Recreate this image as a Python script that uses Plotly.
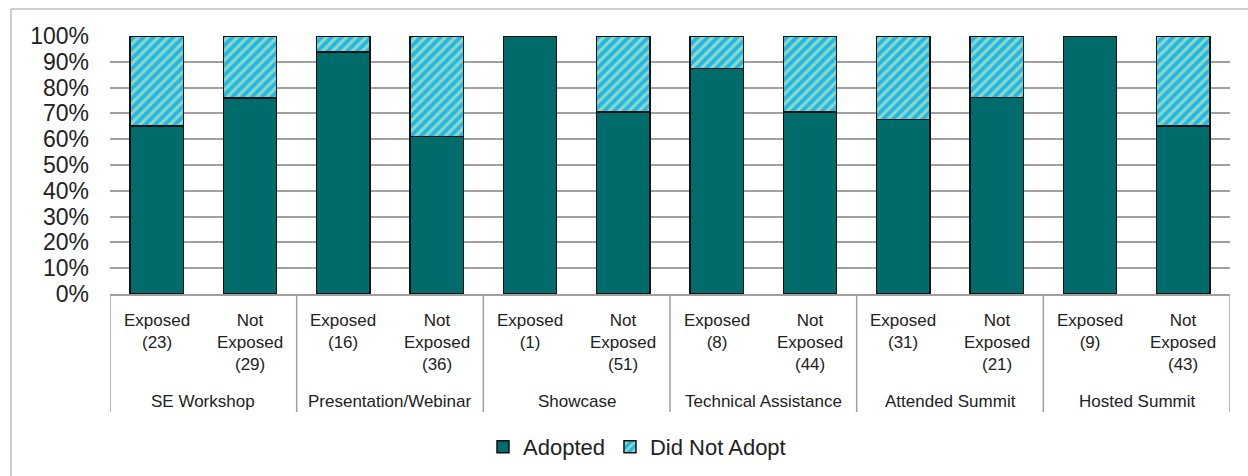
import plotly.graph_objects as go

# ---- data ----
groups = ["SE Workshop", "Presentation/Webinar", "Showcase",
          "Technical Assistance", "Attended Summit", "Hosted Summit"]
exposed_n = [23, 16, 1, 8, 31, 9]
not_exposed_n = [29, 36, 51, 44, 21, 43]
adopted = [65.2, 75.9, 93.8, 61.1, 100.0, 70.6, 87.5, 70.5, 67.7, 76.2, 100.0, 65.1]
did_not_adopt = [34.8, 24.1, 6.2, 38.9, 0.0, 29.4, 12.5, 29.5, 32.3, 23.8, 0.0, 34.9]
y_ticks = [0, 10, 20, 30, 40, 50, 60, 70, 80, 90, 100]
y_tick_labels = ["0%", "10%", "20%", "30%", "40%", "50%", "60%", "70%", "80%", "90%", "100%"]

# ---- build categories ----
keys, sub_labels = [], []
for g, ne, nn in zip(groups, exposed_n, not_exposed_n):
    keys.append(f"{g}|Exposed")
    sub_labels.append(f"Exposed<br>({ne})")
    keys.append(f"{g}|Not Exposed")
    sub_labels.append(f"Not<br>Exposed<br>({nn})")

W, H = 1248, 476
L, R, T, B = 110, 18, 36, 182
plot_h = H - T - B

def py(pix):
    """pixel y (from top of page) -> paper y"""
    return (H - B - pix) / plot_h

def px(pix):
    return (pix - L) / (W - L - R)

FONT = "Liberation Sans, Arial, sans-serif"
TEAL = "#006B6B"
GRID = "#A0A0A0"

fig = go.Figure()
fig.add_trace(go.Bar(
    name="Adopted", x=keys, y=adopted,
    marker=dict(color=TEAL, line=dict(color="#111111", width=1.5)),
))
fig.add_trace(go.Bar(
    name="Did Not Adopt", x=keys, y=did_not_adopt,
    marker=dict(color="#22BBE8", line=dict(color="#111111", width=1.5),
                pattern=dict(shape="/", bgcolor="#1FB8EA", fgcolor="#92D8C0",
                             size=7, solidity=0.45, fillmode="replace")),
))

annotations = []
for k, lab in zip(keys, sub_labels):
    annotations.append(dict(x=k, xref="x", y=py(309), yref="paper", text=lab,
                            showarrow=False, yanchor="top", xanchor="center",
                            align="center", font=dict(family=FONT, size=17, color="#222222")))
for i, g in enumerate(groups):
    annotations.append(dict(x=2 * i + 0.5, xref="x", y=py(401), yref="paper", text=g,
                            showarrow=False, yanchor="middle", xanchor="center",
                            font=dict(family=FONT, size=17, color="#222222")))

shapes = []
for i in range(len(groups) + 1):
    xv = 2 * i - 0.5
    shapes.append(dict(type="line", xref="x", yref="paper", x0=xv, x1=xv,
                       y0=0, y1=py(412), line=dict(color=GRID, width=1.5)))
# outer chart border (left & top visible)
shapes.append(dict(type="rect", xref="paper", yref="paper",
                   x0=px(11), x1=px(1300), y0=py(9), y1=py(520),
                   line=dict(color="#A0A0A0", width=1), layer="below"))

fig.update_layout(
    width=W, height=H,
    margin=dict(l=L, r=R, t=T, b=B, autoexpand=False),
    barmode="stack", bargap=0.43,
    plot_bgcolor="white", paper_bgcolor="white",
    font=dict(family=FONT, color="#222222"),
    showlegend=True,
    legend=dict(orientation="h", x=px(637), xanchor="center", y=py(447), yanchor="middle",
                font=dict(family=FONT, size=22, color="#222222"), itemwidth=30,
                traceorder="normal"),
    annotations=annotations,
    shapes=shapes,
)
fig.update_xaxes(showticklabels=False, showgrid=False, showline=True,
                 linecolor=GRID, linewidth=2, range=[-0.5, len(keys) - 0.5],
                 categoryorder="array", categoryarray=keys, ticks="")
fig.update_yaxes(range=[0, 100], tickmode="array", tickvals=y_ticks, ticktext=y_tick_labels,
                 showgrid=True, gridcolor=GRID, gridwidth=2, zeroline=False, showline=False,
                 tickfont=dict(family=FONT, size=23, color="#222222"),
                 ticks="", ticklabelstandoff=20)

fig.write_html("out.html", config={"displayModeBar": False},
               post_script="document.body.style.margin='0';document.body.style.overflow='hidden';")
